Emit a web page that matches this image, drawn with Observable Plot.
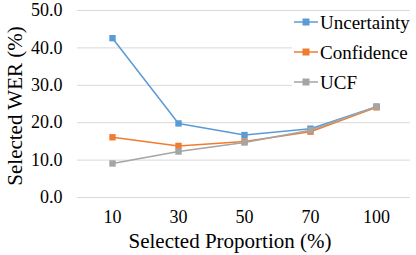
<!DOCTYPE html>
<html><head><meta charset="utf-8">
<script src="https://cdn.jsdelivr.net/npm/d3@7"></script>
<script src="https://cdn.jsdelivr.net/npm/@observablehq/plot@0.6"></script>
<style>
body{margin:0;background:#fff;}
#wrap{position:relative;width:416px;height:255px;}
#legend{position:absolute;left:292px;top:7px;background:linear-gradient(to bottom, transparent 0, transparent 5px, #fff 5px);padding:0 0 0 2px;}
.item{display:flex;align-items:center;height:30px;font-size:19px;color:#000;line-height:1;}
.item svg{margin-right:2px;}
</style>
</head><body><div id="wrap"><div id="legend"></div></div>
<script>
const proportions = ["10","30","50","70","100"];
const uncertainty = [42.6, 19.8, 16.7, 18.4, 24.3];
const confidence = [16.1, 13.8, 15.0, 17.6, 24.1];
const ucf = [9.1, 12.3, 14.7, 18.0, 24.3];
const seriesNames = ["Uncertainty","Confidence","UCF"];
const seriesColors = ["#5B9BD5","#ED7D31","#A5A5A5"];
const yTicks = [0,10,20,30,40,50];

const FONT = "Liberation Serif";
const seriesValues = [uncertainty, confidence, ucf];
const data = [];
seriesNames.forEach((s,i)=>proportions.forEach((p,j)=>data.push({series:s,x:p,y:seriesValues[i][j]})));

const chart = Plot.plot({
  width:416, height:255,
  marginLeft:77, marginRight:6, marginTop:10, marginBottom:58,
  style:{fontFamily:FONT, fontSize:"18px", color:"#000", background:"#fff"},
  x:{type:"point", domain:proportions, padding:0.5, label:null},
  y:{domain:[0,50], label:null},
  color:{domain:seriesNames, range:seriesColors},
  marks:[
    Plot.gridY(yTicks,{stroke:"#d9d9d9", strokeOpacity:1, strokeWidth:1}),
    Plot.axisY(yTicks,{tickSize:0, tickPadding:15, tickFormat:d=>d.toFixed(1), fontSize:18, fontFamily:FONT, label:null}),
    Plot.axisX({tickSize:0, tickPadding:13, fontSize:18, fontFamily:FONT, label:null}),
    Plot.text(["Selected Proportion (%)"],{frameAnchor:"bottom", dx:-14, dy:50, fontSize:21, fontFamily:FONT}),
    Plot.text(["Selected WER (%)"],{frameAnchor:"left", textAnchor:"middle", dx:-62, dy:2, rotate:-90, fontSize:21, fontFamily:FONT}),
    Plot.line(data,{x:"x", y:"y", z:"series", stroke:"series", strokeWidth:1.5}),
    Plot.dot(data,{x:"x", y:"y", fill:"series", symbol:"square", r:3.6})
  ]
});
document.getElementById("wrap").prepend(chart);

const lg = document.getElementById("legend");
lg.style.fontFamily = FONT;
seriesNames.forEach((s,i)=>{
  const d = document.createElement("div"); d.className="item";
  d.innerHTML = `<svg width="24" height="10"><line x1="0" x2="24" y1="5" y2="5" stroke="${seriesColors[i]}" stroke-width="1.5"/><rect x="8.5" y="1.5" width="7" height="7" fill="${seriesColors[i]}"/></svg><span style="font-family:'${FONT}'">${s}</span>`;
  lg.appendChild(d);
});
</script></body></html>
